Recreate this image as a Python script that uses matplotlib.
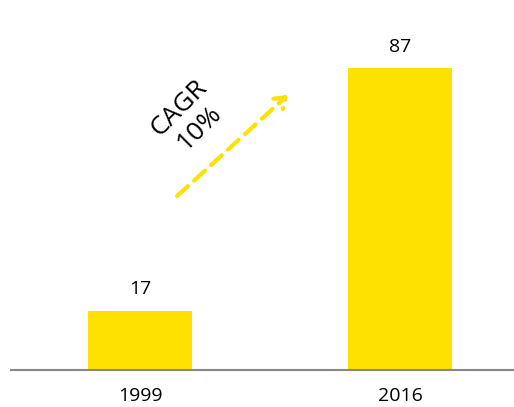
import matplotlib.pyplot as plt

years = ['1999', '2016']
values = [17, 87]
bar_color = '#FFE100'

plt.rcParams['font.family'] = ['Open Sans', 'DejaVu Sans']

fig = plt.figure(figsize=(5.14, 4.07), dpi=100)
ax = fig.add_axes([11 / 514, (407 - 370) / 407, 503 / 514, 370 / 407])

x = range(len(years))
ax.bar(x, values, width=0.4, color=bar_color)
ax.set_xlim(-0.496, 1.438)
ax.set_ylim(0, 106.6)

for i, v in zip(x, values):
    ax.text(i, v + 3.6, str(v), ha='center', va='bottom', fontsize=14)

for i, yr in zip(x, years):
    ax.text(i, -7.5, yr, ha='center', va='center', fontsize=14)

# linea base
for s in ['top', 'right', 'left']:
    ax.spines[s].set_visible(False)
ax.spines['bottom'].set_color('#888888')
ax.spines['bottom'].set_linewidth(1.5)
ax.set_xticks([])
ax.set_yticks([])

# flecha CAGR
ax.annotate('', xy=(0.577, 79.8), xytext=(0.135, 49.6),
            arrowprops=dict(arrowstyle='->,head_length=0.7,head_width=0.5',
                            color=bar_color, lw=3, linestyle=(0, (3.5, 2))))
ax.text(0.19, 72.5, 'CAGR\n10%', rotation=45, ha='center', va='center',
        fontsize=19, linespacing=1.15)

fig.savefig('out.png', dpi=100)
